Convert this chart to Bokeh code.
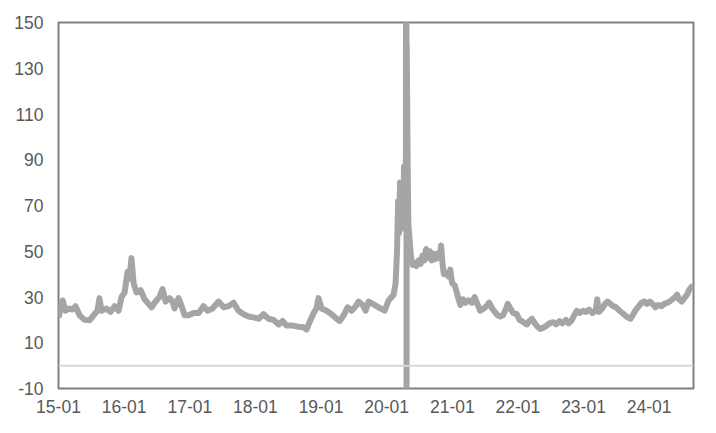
import pandas as pd
from bokeh.plotting import figure
from bokeh.models import FixedTicker, DatetimeTickFormatter, Span, Range1d
from bokeh.embed import file_html
from bokeh.resources import INLINE

# ---------------- data ----------------
dates = [
    "2015-01-02", "2015-01-13", "2015-01-24", "2015-02-09", "2015-03-03", "2015-03-20",
    "2015-04-06", "2015-04-28", "2015-05-26", "2015-06-23", "2015-07-15", "2015-08-06",
    "2015-08-17", "2015-08-28", "2015-09-25", "2015-10-18", "2015-11-09", "2015-12-01",
    "2015-12-18", "2016-01-04", "2016-01-20", "2016-01-31", "2016-02-11", "2016-02-23",
    "2016-03-10", "2016-04-02", "2016-04-24", "2016-05-16", "2016-06-02", "2016-06-24",
    "2016-07-16", "2016-08-02", "2016-08-19", "2016-09-10", "2016-09-27", "2016-10-08",
    "2016-10-30", "2016-11-16", "2016-12-03", "2016-12-25", "2017-01-22", "2017-02-19",
    "2017-03-18", "2017-04-10", "2017-05-07", "2017-06-10", "2017-07-08", "2017-08-05",
    "2017-09-01", "2017-09-29", "2017-10-27", "2017-11-24", "2017-12-27", "2018-01-19",
    "2018-02-15", "2018-03-15", "2018-04-12", "2018-05-10", "2018-06-01", "2018-06-23",
    "2018-07-27", "2018-08-29", "2018-09-26", "2018-10-13", "2018-10-29", "2018-11-21",
    "2018-12-07", "2018-12-18", "2019-01-04", "2019-02-01", "2019-03-01", "2019-03-29",
    "2019-04-15", "2019-05-07", "2019-05-29", "2019-06-20", "2019-07-13", "2019-07-29",
    "2019-08-21", "2019-09-06", "2019-09-23", "2019-10-15", "2019-11-06", "2019-11-28",
    "2019-12-21", "2020-01-12", "2020-01-29", "2020-02-09", "2020-02-20", "2020-02-28",
    "2020-03-05", "2020-03-10", "2020-03-16", "2020-03-21", "2020-03-27", "2020-04-02",
    "2020-04-07", "2020-04-13", "2020-04-17", "2020-04-20", "2020-04-21", "2020-04-22",
    "2020-04-27", "2020-05-01", "2020-05-08", "2020-05-15", "2020-05-25", "2020-06-05",
    "2020-06-15", "2020-06-28", "2020-07-08", "2020-07-18", "2020-07-28", "2020-08-08",
    "2020-08-18", "2020-08-28", "2020-09-08", "2020-09-18", "2020-09-28", "2020-10-10",
    "2020-10-22", "2020-10-30", "2020-11-08", "2020-11-15", "2020-11-28", "2020-12-10",
    "2020-12-20", "2020-12-31", "2021-01-15", "2021-02-01", "2021-02-15", "2021-03-01",
    "2021-03-15", "2021-04-01", "2021-04-20", "2021-05-05", "2021-05-20", "2021-06-05",
    "2021-06-25", "2021-07-10", "2021-07-25", "2021-08-10", "2021-08-25", "2021-09-10",
    "2021-09-25", "2021-10-10", "2021-10-25", "2021-11-05", "2021-11-20", "2021-12-05",
    "2021-12-25", "2022-01-10", "2022-02-01", "2022-02-20", "2022-03-05", "2022-03-20",
    "2022-04-05", "2022-04-20", "2022-05-05", "2022-05-20", "2022-06-10", "2022-06-25",
    "2022-07-15", "2022-08-01", "2022-08-20", "2022-09-05", "2022-09-25", "2022-10-10",
    "2022-10-25", "2022-11-10", "2022-11-25", "2022-12-10", "2022-12-30", "2023-01-15",
    "2023-02-01", "2023-02-20", "2023-03-10", "2023-03-18", "2023-03-28", "2023-04-15",
    "2023-05-01", "2023-05-15", "2023-05-30", "2023-06-15", "2023-07-01", "2023-07-20",
    "2023-08-05", "2023-08-20", "2023-09-05", "2023-09-20", "2023-10-05", "2023-10-20",
    "2023-11-05", "2023-11-20", "2023-12-05", "2023-12-20", "2024-01-05", "2024-01-20",
    "2024-02-05", "2024-02-20", "2024-03-10", "2024-03-25", "2024-04-10", "2024-04-25",
    "2024-05-10", "2024-05-25", "2024-06-05", "2024-06-15", "2024-06-30", "2024-07-15",
    "2024-07-30", "2024-08-10", "2024-08-25", "2024-09-01",
]
values = [
    21, 25, 28.5, 24, 25, 24.5,
    26, 22, 20, 19.8, 22, 24,
    29.5, 24, 25, 23.5, 26, 24,
    30, 32, 41, 38, 47, 36,
    32, 33, 29, 27, 25.5, 28,
    30, 33.5, 28, 29.5, 28, 25,
    29.5, 26, 22, 22, 23, 23,
    26, 24, 25, 28, 25.5, 26,
    27.5, 24, 22.5, 21.5, 21, 20.5,
    22.5, 20.5, 20, 18, 19.5, 17.5,
    17.5, 17, 16.8, 15.8, 19, 23,
    25, 29.5, 25, 24, 22.5, 20.5,
    19.5, 22, 25.5, 24, 26, 28,
    26.5, 24, 28, 27, 26, 25,
    24, 28.5, 30, 31, 36, 50,
    72, 58, 80, 62, 78, 60,
    87, 65, 75, 330, -40, 140,
    90, 62, 55, 48, 44, 45,
    43.5, 46, 44.5, 48, 46, 51,
    47, 50, 46, 49, 46.5, 49,
    47, 52.5, 44, 40, 40.5, 39,
    42, 36, 35, 30, 26.5, 29,
    27.5, 28.5, 27.5, 30, 27, 24,
    25, 26, 27.5, 25, 23.5, 22,
    21.5, 22, 24.5, 27, 25, 23,
    22.5, 20, 19, 18, 19.5, 20.5,
    18.5, 17, 16, 16.5, 17.5, 18.5,
    19, 18, 19.5, 18.5, 20, 18.5,
    19.5, 22, 24, 23, 24, 23.5,
    24.5, 23, 24, 29, 23.5, 25,
    27, 28, 27, 26, 25.5, 24,
    23, 22, 21, 20.5, 22.5, 24.5,
    26, 27.5, 28, 27, 28, 27,
    25.5, 26.5, 26, 27, 27.5, 28,
    29, 30, 31, 29, 28, 29.5,
    31, 33, 34.5, 35,
]
x_tick_labels = ["15-01", "16-01", "17-01", "18-01", "19-01",
                 "20-01", "21-01", "22-01", "23-01", "24-01"]
y_ticks = [-10, 10, 30, 50, 70, 90, 110, 130, 150]
x_start = "2015-01-01"
x_end = "2024-09-04"

# ---------------- figure ----------------
x = pd.to_datetime(dates)
tick_dt = pd.to_datetime(["20" + t for t in x_tick_labels], format="%Y-%m")
tick_ms = [int(t.value // 10**6) for t in tick_dt]

p = figure(width=716, height=433, x_axis_type="datetime",
           output_backend="svg", toolbar_location=None,
           x_range=Range1d(pd.Timestamp(x_start), pd.Timestamp(x_end)),
           y_range=Range1d(y_ticks[0], y_ticks[-1]),
           min_border_left=58, min_border_right=23,
           min_border_top=22, min_border_bottom=45)

p.background_fill_color = "white"
p.border_fill_color = "white"
p.outline_line_color = "#808080"
p.outline_line_width = 2
p.grid.visible = False

zero = Span(location=0, dimension="width", line_color="#d9d9d9", line_width=2)
p.add_layout(zero)

p.line(x=x, y=values, line_color="#a5a5a5", line_width=6, line_join="round")

fmt = "%y-%m"
p.xaxis.ticker = FixedTicker(ticks=tick_ms)
p.xaxis.formatter = DatetimeTickFormatter(
    milliseconds=fmt, seconds=fmt, minsec=fmt, minutes=fmt, hourmin=fmt,
    hours=fmt, days=fmt, months=fmt, years=fmt)
p.yaxis.ticker = FixedTicker(ticks=y_ticks)
p.yaxis.major_label_overrides = {t: str(t) for t in y_ticks}

for ax in (p.xaxis[0], p.yaxis[0]):
    ax.axis_line_color = None
    ax.major_tick_line_color = None
    ax.minor_tick_line_color = None
    ax.major_tick_in = 0
    ax.major_tick_out = 0
    ax.minor_tick_in = 0
    ax.minor_tick_out = 0
    ax.major_label_text_font = "Liberation Sans"
    ax.major_label_text_font_size = "17.5px"
    ax.major_label_text_color = "#595959"

p.yaxis.major_label_standoff = 15
p.xaxis.major_label_standoff = 11

open("out.html", "w").write(file_html(p, INLINE))
